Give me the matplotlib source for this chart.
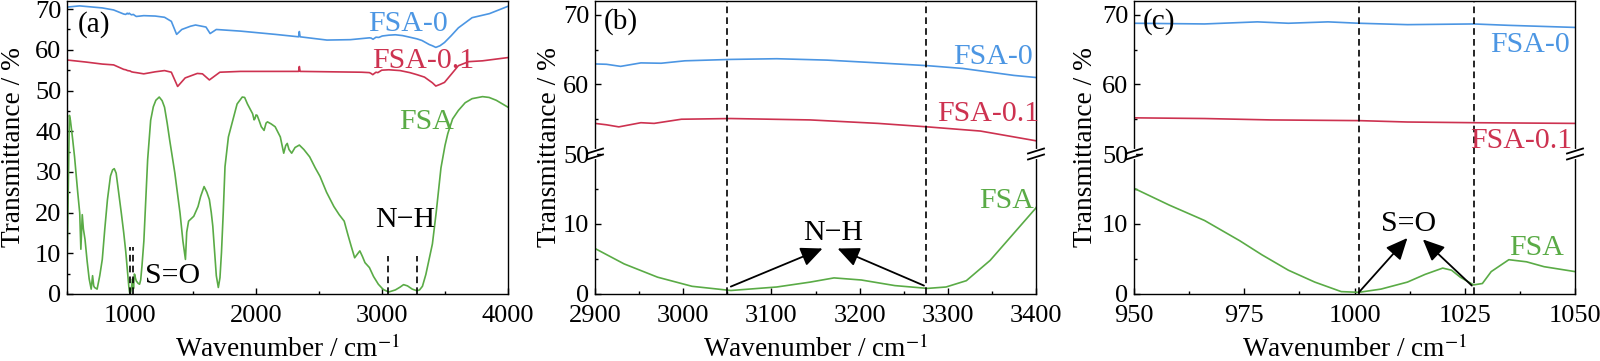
import matplotlib
matplotlib.use("Agg")
import matplotlib.pyplot as plt
from matplotlib.lines import Line2D
from matplotlib.ticker import MultipleLocator

plt.rcParams['font.family'] = ['Liberation Serif', 'DejaVu Serif']
plt.rcParams['mathtext.fontset'] = 'stix'

# ---- data (wavenumber cm-1, transmittance %) ----
fsa0_w = [500, 600, 780, 870, 950, 966, 978, 985, 994, 1001, 1012, 1027, 1035, 1050,
          1109, 1200, 1274, 1328, 1370, 1411, 1480, 1520, 1603, 1636, 1685, 1877,
          2152, 2338, 2344, 2350, 2563, 2750, 2900, 2913, 2929, 2952, 2975, 3002,
          3054, 3106, 3163, 3221, 3277, 3317, 3375, 3400, 3427, 3460, 3496, 3550,
          3606, 3715, 3853, 4000]
fsa0_t = [70.5, 70.8, 70.3, 69.8, 68.8, 68.7, 69.0, 68.8, 69.0, 68.8, 68.6, 68.7, 68.5, 68.2,
          68.4, 68.3, 68.0, 67.0, 63.8, 65.0, 65.8, 66.1, 65.6, 64.0, 65.0, 64.6,
          63.8, 63.2, 64.5, 63.2, 62.4, 62.5, 62.95, 62.9, 62.6, 63.1, 63.05, 63.4,
          63.6, 63.7, 63.5, 63.1, 62.7, 62.3, 61.3, 61.0, 60.6, 61.0, 61.8, 63.5,
          65.4, 67.9, 68.9, 70.7]

fsa01_w = [500, 650, 780, 870, 950, 966, 981, 1001, 1012, 1027, 1050, 1109, 1200,
           1274, 1328, 1378, 1438, 1534, 1575, 1630, 1713, 1877, 2338, 2344, 2350,
           2837, 2900, 2913, 2927, 2952, 2967, 2998, 3054, 3144, 3221, 3277, 3337,
           3400, 3427, 3460, 3496, 3550, 3606, 3688, 3798, 4000]
fsa01_t = [57.5, 57.0, 56.5, 56.3, 55.2, 55.1, 54.9, 54.8, 54.6, 54.5, 54.4, 54.1, 54.6,
           54.9, 54.5, 51.0, 53.1, 54.2, 54.1, 52.6, 54.5, 54.7, 54.7, 55.9, 54.7,
           54.5, 54.4, 54.2, 53.9, 54.5, 54.4, 55.0, 55.1, 54.9, 54.4, 53.9, 53.3,
           51.9, 51.1, 51.5, 52.0, 54.0, 56.1, 57.1, 57.3, 58.1]

fsa_w = [500, 510, 519, 527, 545, 560, 585, 601, 610, 614, 621, 630, 643, 660, 676,
         692, 703, 712, 719, 739, 760, 780, 800, 821, 845, 862, 875, 890, 910, 931,
         950, 958, 966, 974, 979, 985, 991, 997, 1001, 1006, 1012, 1016, 1020, 1022,
         1024, 1027, 1029, 1031, 1035, 1039, 1043, 1050, 1065, 1076, 1085, 1095,
         1110, 1123, 1140, 1164, 1185, 1205, 1232, 1255, 1274, 1295, 1315, 1356,
         1397, 1420, 1440, 1450, 1465, 1506, 1540, 1561, 1588, 1610, 1630, 1645,
         1657, 1672, 1685, 1701, 1714, 1726, 1740, 1754, 1781, 1810, 1850, 1891,
         1910, 1932, 1973, 1985, 1992, 2000, 2009, 2025, 2042, 2064, 2080, 2091,
         2120, 2152, 2193, 2220, 2236, 2248, 2262, 2283, 2310, 2344, 2380, 2426,
         2470, 2508, 2560, 2618, 2660, 2700, 2730, 2755, 2783, 2805, 2824, 2845,
         2865, 2900, 2933, 2971, 3010, 3054, 3106, 3144, 3171, 3202, 3240, 3277,
         3298, 3321, 3348, 3375, 3400, 3430, 3468, 3500, 3522, 3560, 3606, 3660,
         3715, 3798, 3850, 3907, 3950, 4000]
fsa_t = [5.3, 25, 43.9, 42.7, 38, 33.7, 25, 19.9, 11.0, 14, 19.5, 16, 13.4, 8, 3.7,
         1.2, 4.5, 2.0, 1.6, 1.2, 4.5, 8.5, 16, 23.2, 29, 30.5, 30.8, 29.7, 25, 19.9,
         15.1, 12.7, 10.5, 7.6, 5.6, 3.4, 1.7, 0.34, 0.24, 0.7, 1.7, 2.8, 3.7, 3.4,
         2.4, 1.3, 1.5, 3.2, 4.9, 4.6, 3.9, 3.2, 2.6, 2.4, 3.5, 6.9,
         13, 21.5, 33, 42.7, 46, 47.6, 48.4, 47.5, 45.9, 42, 37.8, 29.7,
         19.9, 13, 8.5, 15.2, 17.9, 19.1, 21.5, 24, 26.4, 25, 23.2, 20,
         16.7, 10, 4.5, 1.6, 4, 10.2, 20, 31.3, 38.6, 42, 46.7, 48.4,
         48.3, 46.7, 44.3, 42.8, 43.1, 44.0, 43.9, 42.6, 41.1, 40.2, 42, 42.3,
         41.8, 41.1, 38.6, 34.6, 36.5, 37.0, 35.5, 34.6, 36, 36.6, 35.5, 33.7,
         31, 28.9, 25, 21.5, 19.5, 17.9, 14.5, 11.8, 8.9, 9.8, 10.6, 9.2,
         7.7, 6.5, 4.3, 2.4, 1.1, 0.5, 1.0, 1.7, 2.3, 2.0, 1.2, 0.8,
         1.0, 1.9, 4.8, 8.7, 12.3, 20, 31, 36.5, 39.4, 43, 45.1, 47,
         48.0, 48.5, 48.3, 47.6, 46.8, 45.9]

series = [("FSA-0", fsa0_w, fsa0_t, '#4c96e3'),
          ("FSA-0.1", fsa01_w, fsa01_t, '#cd3250'),
          ("FSA", fsa_w, fsa_t, '#5aab46')]

so_lines = [1001, 1027]
nh_lines = [3050, 3275]

W, H = 1600, 361
fig = plt.figure(figsize=(W / 100, H / 100), dpi=100)

TICK = 19
LAB = 19.7
TXT = 21.5
TAG = 21
DASH = (0, (4, 2.5))


def fx(px):
    return px / W


def fy(py):
    # py measured from the top of the image
    return 1 - py / H


def style(ax, major_x, minor_x, major_y, minor_y):
    ax.xaxis.set_major_locator(MultipleLocator(major_x))
    ax.xaxis.set_minor_locator(MultipleLocator(minor_x))
    ax.yaxis.set_major_locator(MultipleLocator(major_y))
    ax.yaxis.set_minor_locator(MultipleLocator(minor_y))
    ax.tick_params(which='both', direction='in', top=False, right=False, width=1.0)
    ax.tick_params(which='major', length=4.5)
    ax.tick_params(which='minor', length=2.5)
    ax.tick_params(axis='x', labelsize=TICK, pad=8)
    ax.tick_params(axis='y', labelsize=TICK, pad=4)
    for s in ax.spines.values():
        s.set_linewidth(1.0)


top_px, brk_px, bot_px = 1, 154, 294
ax_w = 441

# ---------------- panel (a) ----------------
left_a = 67
ax_a = fig.add_axes([fx(left_a), fy(bot_px), fx(ax_w), (bot_px - top_px) / H])
for name, w, t, c in series:
    ax_a.plot(w, t, color=c, lw=1.2)
ax_a.set_xlim(500, 4000)
ax_a.set_ylim(0, 72)
style(ax_a, 1000, 500, 10, 5)
ax_a.vlines(so_lines, 0, 11.5, colors='k', linestyles=DASH, lw=1.2)
ax_a.vlines(nh_lines, 0, 9.3, colors='k', linestyles=DASH, lw=1.2)
ax_a.text(1123, 4.5, "S=O", fontsize=TXT, ha='left', va='center')
ax_a.text(3180, 18.3, "N\u2212H", fontsize=TXT, ha='center', va='center')
ax_a.text(3208, 66.4, "FSA-0", fontsize=TXT, color=series[0][3], ha='center', va='center')
ax_a.text(2920, 57.2, "FSA-0.1", fontsize=TXT, color=series[1][3], ha='left', va='center')
ax_a.text(3350, 42.3, "FSA", fontsize=TXT, color=series[2][3], ha='center', va='center')
ax_a.text(587, 66.1, "(a)", fontsize=TAG, ha='left', va='center')
fig.text(fx(1), fy((top_px + bot_px) / 2), "Transmittance / %", rotation=90,
         fontsize=LAB, ha='left', va='center')
fig.text(fx(left_a + ax_w / 2), fy(349), "Wavenumber / cm$^{-1}$", fontsize=LAB,
         ha='center', va='center')


# ---------------- broken panels (b), (c) ----------------
def broken_panel(left, xlim, major_x, minor_x, vlines, arrows, label_txt, label_xy,
                 tag, tag_xy, name_pos, ylab_px):
    ax_lo = fig.add_axes([fx(left), fy(bot_px), fx(ax_w), (bot_px - brk_px) / H])
    ax_hi = fig.add_axes([fx(left), fy(brk_px), fx(ax_w), (brk_px - top_px) / H])
    for ax in (ax_lo, ax_hi):
        for name, w, t, c in series:
            ax.plot(w, t, color=c, lw=1.2)
        ax.set_xlim(*xlim)
        style(ax, major_x, minor_x, 10, 5)
        for v in vlines:
            ax.axvline(v, color='k', ls=DASH, lw=1.2)
    ax_lo.set_ylim(0, 20)
    ax_lo.set_yticks([0, 10])
    ax_lo.set_yticks([5, 15], minor=True)
    ax_hi.set_ylim(50, 72)
    ax_hi.set_yticks([50, 60, 70])
    ax_hi.set_yticks([55, 65], minor=True)
    ax_lo.spines['top'].set_visible(False)
    ax_hi.spines['bottom'].set_visible(False)
    ax_hi.tick_params(axis='x', which='both', bottom=False, labelbottom=False)

    for (x0, y0), (x1, y1) in arrows:
        ax_lo.annotate("", xy=(x1, y1), xytext=(x0, y0),
                       arrowprops=dict(arrowstyle='-|>,head_length=0.6,head_width=0.27',
                                       mutation_scale=22, color='k', lw=1.3,
                                       shrinkA=0, shrinkB=0))
    ax_lo.text(label_xy[0], label_xy[1], label_txt, fontsize=TXT, ha='center', va='center')
    ax_hi.text(tag_xy[0], tag_xy[1], tag, fontsize=TAG, ha='left', va='center')
    (p0, p01, pf) = name_pos
    ax_hi.text(p0[0], p0[1], "FSA-0", fontsize=TXT, color=series[0][3], ha='center', va='center')
    ax_hi.text(p01[0], p01[1], "FSA-0.1", fontsize=TXT, color=series[1][3], ha='center', va='center')
    ax_lo.text(pf[0], pf[1], "FSA", fontsize=TXT, color=series[2][3], ha='center', va='center')

    # break marks on both spines
    for xs in (left, left + ax_w):
        fig.add_artist(Line2D([fx(xs), fx(xs)], [fy(brk_px - 3), fy(brk_px + 3)],
                              color='white', lw=3, transform=fig.transFigure))
        for dy in (-3, 3):
            yc = brk_px + dy
            fig.add_artist(Line2D([fx(xs - 8), fx(xs + 8)], [fy(yc + 2.5), fy(yc - 2.5)],
                                  color='k', lw=1.3, transform=fig.transFigure))

    fig.text(fx(ylab_px), fy((top_px + bot_px) / 2), "Transmittance / %", rotation=90,
             fontsize=LAB, ha='center', va='center')
    fig.text(fx(left + ax_w / 2), fy(349), "Wavenumber / cm$^{-1}$", fontsize=LAB,
             ha='center', va='center')


broken_panel(595, (2900, 3400), 100, 50, nh_lines,
             [((3054, 1.06), (3158, 6.5)), ((3273, 1.2), (3175, 6.5))],
             "N\u2212H", (3170, 8.7), "(b)", (2910, 69.0),
             ((3351, 63.9), (3346, 55.7), (3367, 13.3)), 549)

broken_panel(1134, (950, 1050), 25, 12.5, so_lines,
             [((1001, 0.24), (1012, 8.0)), ((1026.6, 1.2), (1015.5, 7.8))],
             "S=O", (1012.3, 10.0), "(c)", (951.9, 69.1),
             ((1039.7, 65.7), (1037.7, 51.9), (1041.2, 6.6)), 1085)

fig.savefig("out.png", dpi=100)
